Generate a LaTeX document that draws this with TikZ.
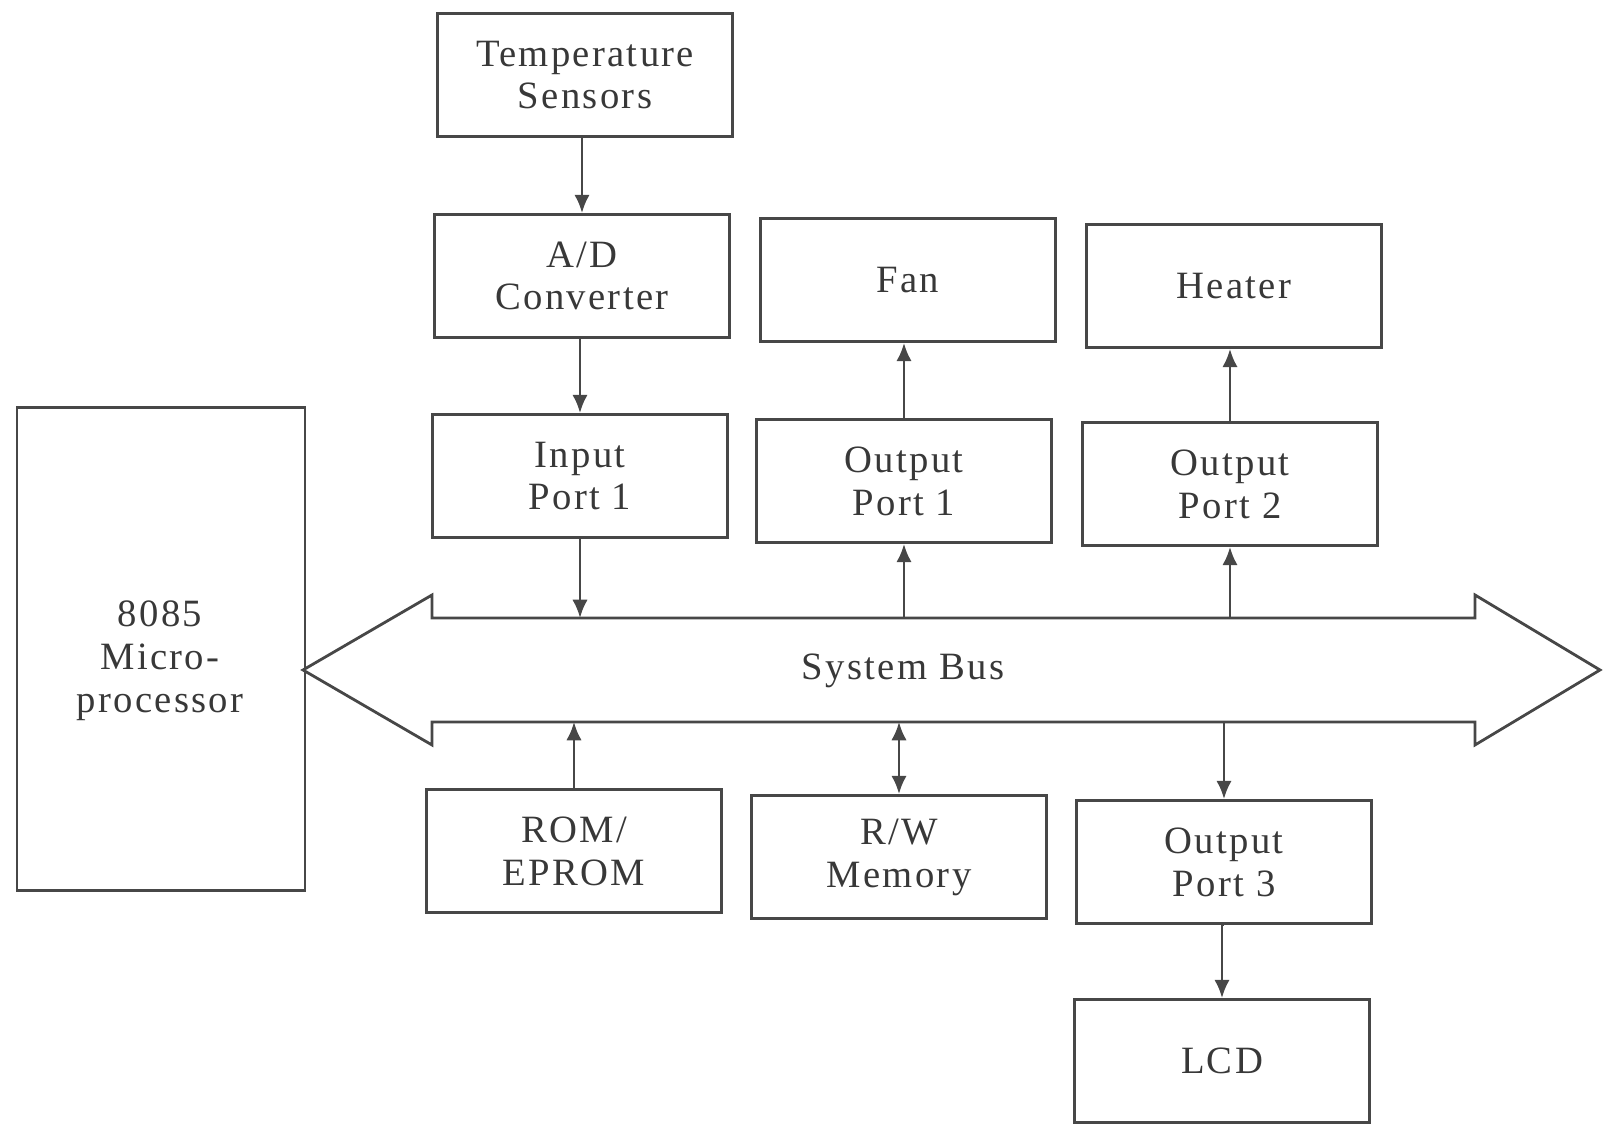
\documentclass[tikz,border=0pt]{standalone}
\usepackage{fontspec}
\setmainfont{Liberation Serif}[LetterSpace=6]
\usetikzlibrary{arrows.meta}
\begin{document}
\begin{tikzpicture}[x=0.1mm,y=-0.1mm,
  line width=0.8pt,
  lbl/.style={text=black!78, font=\fontsize{11}{12.2}\selectfont},
  blk/.style={lbl, draw=black!72, minimum width=29.5mm, minimum height=12.3mm, inner sep=0pt, align=center},
  conn/.style={draw=black!72, -{Latex[length=5.2pt,width=4.4pt]}},
  conn2/.style={draw=black!72, {Latex[length=5.2pt,width=4.4pt]}-{Latex[length=5.2pt,width=4.4pt]}}]
\useasboundingbox (0,0) rectangle (1603,1126);
% blocks
\node[blk] (temp) at (585,75) {Temperature\\Sensors};
\node[blk] (ad) at (582,276) {A/D\\Converter};
\node[blk] (inp) at (580,476) {Input\\Port 1};
\node[blk] (fan) at (908,280) {Fan};
\node[blk] (op1) at (904,481) {Output\\Port 1};
\node[blk] (heat) at (1234,286) {Heater};
\node[blk] (op2) at (1230,484) {Output\\Port 2};
\node[blk] (rom) at (574,851) {ROM/\\EPROM};
\node[blk] (rw) at (899,857) {R/W\\Memory};
\node[blk] (op3) at (1224,862) {Output\\Port 3};
\node[blk] (lcd) at (1222,1061) {LCD};
\node[blk, minimum width=28.8mm, minimum height=48.3mm] (mp) at (161,649) {};
\node[lbl, align=center] (mpl) at (160,661) {8085\\Micro-\\processor};
% system bus
\coordinate (bustop) at (432,618);
\coordinate (busbot) at (432,722);
\draw[black!72] (303,670) -- (432,595) -- (bustop) -- (1475,618) -- (1475,595) -- (1600,670)
  -- (1475,745) -- (1475,722) -- (busbot) -- (432,745) -- cycle;
\node[lbl] (busl) at (903,671) {System Bus};
% connectors
\draw[conn] (temp.south -| ad.north) -- (ad.north);
\draw[conn] (ad.south -| inp.north) -- (inp.north);
\draw[conn] (inp.south) -- (inp.south |- bustop);
\draw[conn] (op1.south |- bustop) -- (op1.south);
\draw[conn] (op1.north) -- (op1.north |- fan.south);
\draw[conn] (op2.south |- bustop) -- (op2.south);
\draw[conn] (op2.north) -- (op2.north |- heat.south);
\draw[conn] (rom.north) -- (rom.north |- busbot);
\draw[conn2] (rw.north |- busbot) -- (rw.north);
\draw[conn] (op3.north |- busbot) -- (op3.north);
\draw[conn] (op3.south) -- (op3.south -| lcd.north) -- (lcd.north);
\end{tikzpicture}
\end{document}
